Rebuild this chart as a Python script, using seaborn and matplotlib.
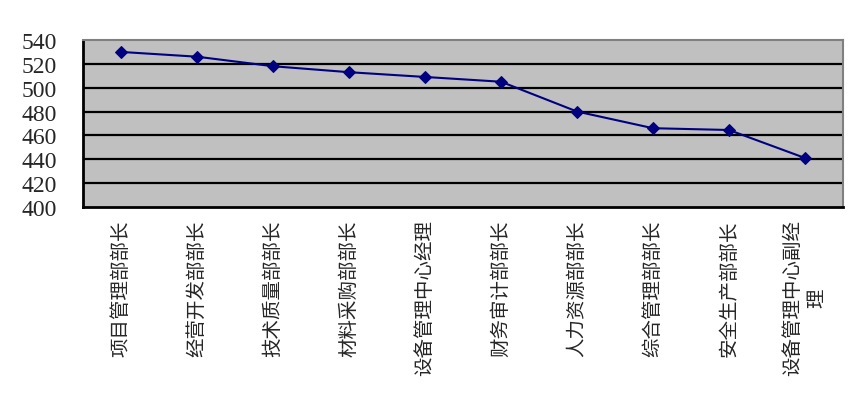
import matplotlib
matplotlib.use("Agg")
import matplotlib.pyplot as plt
import numpy as np
import pandas as pd
import seaborn as sns

positions = ["项目管理部部长", "经营开发部部长", "技术质量部部长", "材料采购部部长",
             "设备管理中心经理", "财务审计部部长", "人力资源部部长", "综合管理部部长",
             "安全生产部部长", "设备管理中心副经\n理"]
scores = [530, 526, 518, 513, 509, 505, 480, 466, 464.5, 441]
y_ticks = [400, 420, 440, 460, 480, 500, 520, 540]

df = pd.DataFrame({"idx": np.arange(len(positions)), "score": scores})

sns.set_theme(style="white")
plt.rcParams["font.family"] = ["Noto Sans CJK SC", "DejaVu Sans"]

fig = plt.figure(figsize=(8.67, 4.06), dpi=100)
ax = fig.add_axes([0.0957, 0.488, 0.8766, 0.411])
ax.set_facecolor("#c0c0c0")

sns.lineplot(data=df, x="idx", y="score", ax=ax, color="#000080",
             marker="D", markersize=6, markeredgecolor="#000080",
             linewidth=1.5, zorder=3)

ax.set_xlim(-0.5, len(positions) - 0.5)
ax.set_ylim(400, 540)
ax.set_yticks(y_ticks)
ax.set_yticklabels([str(v) for v in y_ticks], family="Liberation Serif", fontsize=17)
for v in y_ticks[1:-1]:
    ax.axhline(v, color="black", linewidth=1.6, zorder=1)

ax.set_xticks(np.arange(len(positions)))
ax.set_xticklabels(positions, rotation=90, fontsize=14, va="top", ha="center",
                   multialignment="center")
ax.set_xticks(np.arange(len(positions) + 1) - 0.5, minor=True)
ax.tick_params(axis="x", which="major", length=0, pad=9)
ax.tick_params(axis="x", which="minor", direction="in", length=6, width=1.5, color="black")
ax.tick_params(axis="y", length=0, pad=19)

ax.set_xlabel("")
ax.set_ylabel("")
for side in ["left", "bottom"]:
    ax.spines[side].set_color("black")
    ax.spines[side].set_linewidth(2)
for side in ["top", "right"]:
    ax.spines[side].set_color("#808080")
    ax.spines[side].set_linewidth(1.5)

fig.savefig("out.png", dpi=100, facecolor="white")
